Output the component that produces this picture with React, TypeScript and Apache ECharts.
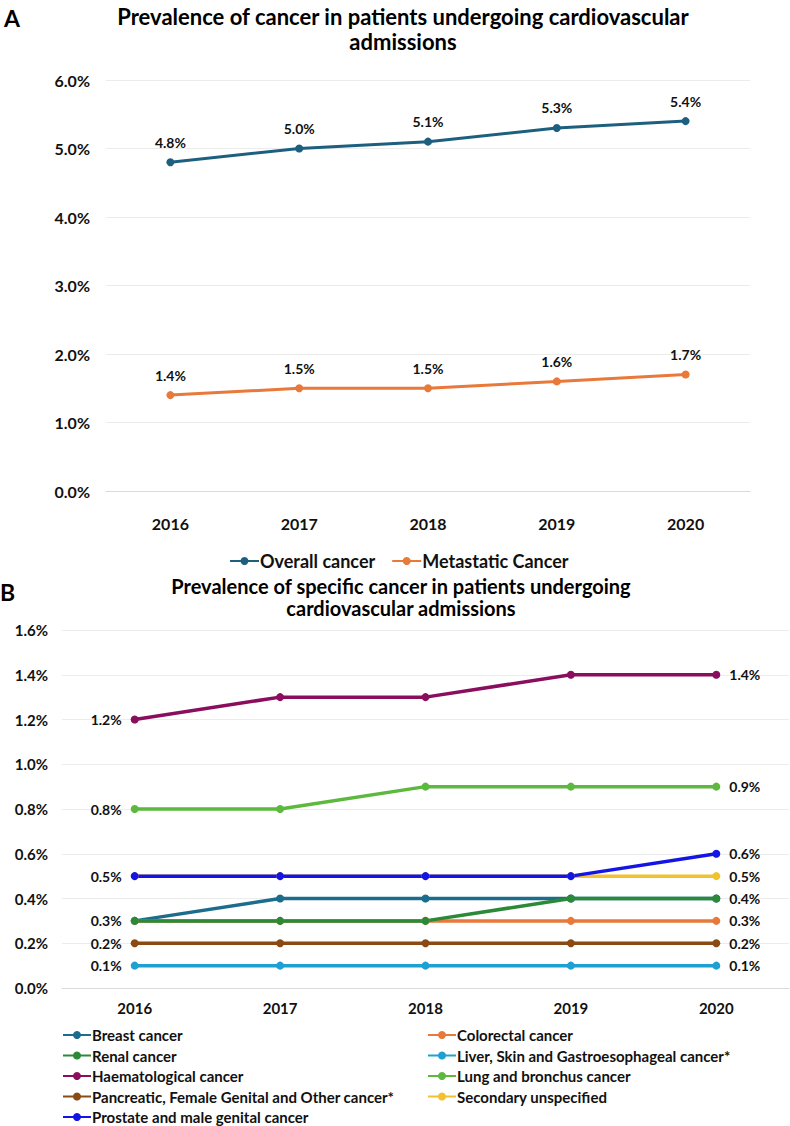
import React, { useEffect, useRef } from "react";
import * as echarts from "echarts";

const years = ["2016", "2017", "2018", "2019", "2020"];

// Chart A values (%)
const overallCancer = [4.8, 5.0, 5.1, 5.3, 5.4];
const metastaticCancer = [1.4, 1.5, 1.5, 1.6, 1.7];

// Chart B values (%)
const breastCancer = [0.3, 0.4, 0.4, 0.4, 0.4];
const colorectalCancer = [0.3, 0.3, 0.3, 0.3, 0.3];
const renalCancer = [0.3, 0.3, 0.3, 0.4, 0.4];
const liverSkinGastroCancer = [0.1, 0.1, 0.1, 0.1, 0.1];
const haematologicalCancer = [1.2, 1.3, 1.3, 1.4, 1.4];
const lungBronchusCancer = [0.8, 0.8, 0.9, 0.9, 0.9];
const pancreaticFemaleOtherCancer = [0.2, 0.2, 0.2, 0.2, 0.2];
const secondaryUnspecified = [0.5, 0.5, 0.5, 0.5, 0.5];
const prostateMaleCancer = [0.5, 0.5, 0.5, 0.5, 0.6];

const titleA = ["Prevalence of cancer in patients undergoing cardiovascular", "admissions"];
const titleB = ["Prevalence of specific cancer in patients undergoing", "cardiovascular admissions"];

const FONT = "Lato";
const pct = (v: number) => v.toFixed(1) + "%";

export default function App() {
  const ref = useRef<HTMLDivElement>(null);
  useEffect(() => {
    if (!ref.current) return;
    const chart = echarts.init(ref.current, null, { renderer: "svg" });

    const seriesB = [
      { name: "Breast cancer", data: breastCancer, color: "#1C6C8C", first: false, last: false },
      { name: "Colorectal cancer", data: colorectalCancer, color: "#E8793A", first: false, last: true },
      { name: "Renal cancer", data: renalCancer, color: "#2A8A38", first: true, last: true },
      { name: "Liver, Skin and Gastroesophageal cancer*", data: liverSkinGastroCancer, color: "#1FA0D2", first: true, last: true },
      { name: "Haematological cancer", data: haematologicalCancer, color: "#8A0D5E", first: true, last: true },
      { name: "Lung and bronchus cancer", data: lungBronchusCancer, color: "#5DB83E", first: true, last: true },
      { name: "Pancreatic, Female Genital and Other cancer*", data: pancreaticFemaleOtherCancer, color: "#8A4A12", first: true, last: true },
      { name: "Secondary unspecified", data: secondaryUnspecified, color: "#F2C12E", first: false, last: true },
      { name: "Prostate and male genital cancer", data: prostateMaleCancer, color: "#1414E6", first: true, last: true },
    ];

    const labelStyle = {
      fontFamily: FONT,
      fontWeight: "bold" as const,
      fontSize: 14,
      color: "#111",
    };

    const legendBText = {
      fontFamily: FONT,
      fontWeight: "bold",
      fontSize: 15,
      lineHeight: 16,
      color: "#111",
      padding: [0, 0, 0, -4],
    };

    const titleText = (text: string, x: number, y: number, size: number) => ({
      type: "text",
      x,
      y,
      style: {
        text,
        font: `bold ${size}px ${FONT}`,
        fill: "#000",
        align: "center",
        verticalAlign: "middle",
      },
    });

    const option: any = {
      animation: false,
      textStyle: { fontFamily: FONT },
      graphic: [
        {
          type: "text",
          left: 4,
          top: 6,
          style: { text: "A", font: `bold 23px ${FONT}`, fill: "#000" },
        },
        titleText(titleA[0], 403, 16, 22),
        titleText(titleA[1], 403, 41, 22),
        {
          type: "text",
          left: 0,
          top: 580,
          style: { text: "B", font: `bold 23px ${FONT}`, fill: "#000" },
        },
        titleText(titleB[0], 401, 586, 20),
        titleText(titleB[1], 401, 608, 20),
      ],
      grid: [
        { left: 106, right: 40, top: 80, height: 411 },
        { left: 62, right: 1, top: 630, height: 358 },
      ],
      xAxis: [
        {
          type: "category",
          gridIndex: 0,
          data: years,
          boundaryGap: true,
          axisTick: { show: false },
          axisLine: { lineStyle: { color: "#d9d9d9", width: 1 } },
          axisLabel: { margin: 24, fontFamily: FONT, fontWeight: "bold", fontSize: 16, color: "#111" },
        },
        {
          type: "category",
          gridIndex: 1,
          data: years,
          boundaryGap: true,
          axisTick: { show: false },
          axisLine: { lineStyle: { color: "#d9d9d9", width: 1 } },
          axisLabel: { margin: 12, fontFamily: FONT, fontWeight: "bold", fontSize: 15, color: "#111" },
        },
      ],
      yAxis: [
        {
          type: "value",
          gridIndex: 0,
          min: 0,
          max: 6,
          interval: 1,
          axisLine: { show: false },
          axisTick: { show: false },
          splitLine: { lineStyle: { color: "#ececec", width: 1 } },
          axisLabel: { margin: 16, formatter: pct, fontFamily: FONT, fontWeight: "bold", fontSize: 16, color: "#111" },
        },
        {
          type: "value",
          gridIndex: 1,
          min: 0,
          max: 1.6,
          interval: 0.2,
          axisLine: { show: false },
          axisTick: { show: false },
          splitLine: { lineStyle: { color: "#ececec", width: 1 } },
          axisLabel: { margin: 14, formatter: pct, fontFamily: FONT, fontWeight: "bold", fontSize: 15, color: "#111" },
        },
      ],
      legend: [
        {
          data: ["Overall cancer", "Metastatic Cancer"],
          left: 229,
          top: 552,
          padding: 0,
          itemWidth: 29,
          itemHeight: 10,
          itemGap: 16,
          textStyle: { fontFamily: FONT, fontWeight: "bold", fontSize: 18, color: "#111", padding: [0, 0, 0, -4] },
        },
        {
          data: seriesB.filter((_, i) => i % 2 === 0).map((s) => s.name),
          orient: "vertical",
          left: 62,
          top: 1027,
          height: 99,
          padding: 0,
          itemWidth: 28,
          itemHeight: 10,
          itemGap: 4.5,
          textStyle: legendBText,
        },
        {
          data: seriesB.filter((_, i) => i % 2 === 1).map((s) => s.name),
          orient: "vertical",
          left: 427,
          top: 1027,
          height: 99,
          padding: 0,
          itemWidth: 28,
          itemHeight: 10,
          itemGap: 4.5,
          textStyle: legendBText,
        },
      ],
      series: [
        {
          name: "Overall cancer",
          type: "line",
          xAxisIndex: 0,
          yAxisIndex: 0,
          data: overallCancer,
          color: "#1D5F7E",
          symbol: "circle",
          symbolSize: 8,
          lineStyle: { width: 3 },
          label: { show: true, position: "top", distance: 9, formatter: (p: any) => pct(p.value), ...labelStyle },
        },
        {
          name: "Metastatic Cancer",
          type: "line",
          xAxisIndex: 0,
          yAxisIndex: 0,
          data: metastaticCancer,
          color: "#E8793A",
          symbol: "circle",
          symbolSize: 8,
          lineStyle: { width: 3 },
          label: { show: true, position: "top", distance: 9, formatter: (p: any) => pct(p.value), ...labelStyle },
        },
        ...seriesB.map((s) => ({
          name: s.name,
          type: "line",
          xAxisIndex: 1,
          yAxisIndex: 1,
          color: s.color,
          symbol: "circle",
          symbolSize: 8,
          lineStyle: { width: 3.5 },
          data: s.data.map((v, i) => {
            const isFirst = i === 0 && s.first;
            const isLast = i === s.data.length - 1 && s.last;
            if (isFirst || isLast) {
              return {
                value: v,
                label: {
                  show: true,
                  position: isFirst ? "left" : "right",
                  distance: 9,
                  formatter: (p: any) => pct(p.value),
                  ...labelStyle,
                },
              };
            }
            return v;
          }),
        })),
      ],
    };

    chart.setOption(option);
    return () => chart.dispose();
  }, []);

  return (
    <div
      ref={ref}
      style={{ position: "absolute", left: 0, top: 0, width: 790, height: 1126, background: "#fff" }}
    />
  );
}
